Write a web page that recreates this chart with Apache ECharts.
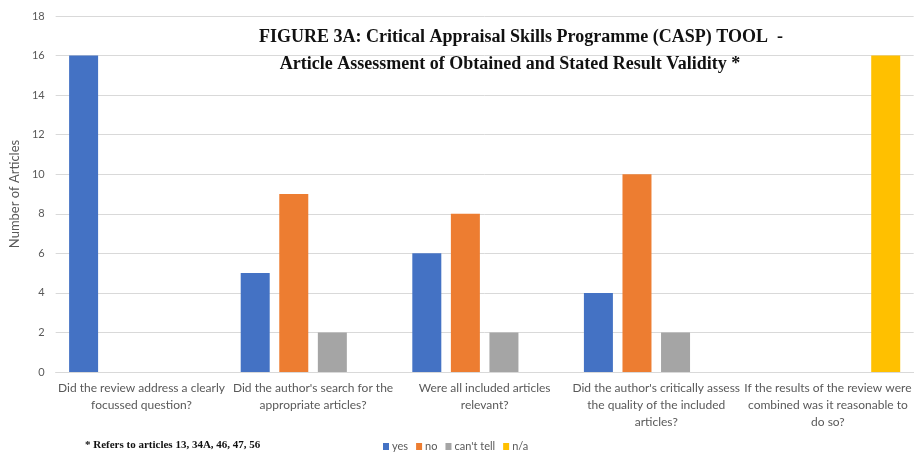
<!DOCTYPE html>
<html>
<head>
<meta charset="utf-8">
<script src="https://cdn.jsdelivr.net/npm/echarts@6/dist/echarts.min.js"></script>
<style>
  html, body { margin: 0; padding: 0; background: #fff; }
  #chart { width: 914px; height: 457px; }
</style>
</head>
<body>
<div id="chart"></div>
<script>
// CASP question categories (line breaks as drawn under the axis)
const categories = [
  'Did the review address a clearly\nfocussed question?',
  "Did the author's search for the\nappropriate articles?",
  'Were all included articles\nrelevant?',
  "Did the author's critically assess\nthe quality of the included\narticles?",
  'If the results of the review were\ncombined was it reasonable to\ndo so?'
];
const seriesNames = ['yes', 'no', "can't tell", 'n/a'];
const yesValues = [16, 5, 6, 4, 0];
const noValues = [0, 9, 8, 10, 0];
const cantTellValues = [0, 2, 2, 2, 0];
const naValues = [0, 0, 0, 0, 16];
const yTicks = [0, 2, 4, 6, 8, 10, 12, 14, 16, 18];
const titleLines = [
  'FIGURE 3A: Critical Appraisal Skills Programme (CASP) TOOL  -',
  'Article Assessment of Obtained and Stated Result Validity *'
];

const colors = ['#4472C4', '#ED7D31', '#A5A5A5', '#FFC000'];
const valueSets = [yesValues, noValues, cantTellValues, naValues];

const chart = echarts.init(document.getElementById('chart'), null, { renderer: 'canvas' });

const barSeries = seriesNames.map((name, i) => ({
  name: name,
  type: 'bar',
  data: valueSets[i],
  barWidth: 29,
  barGap: '33%',
  itemStyle: { color: colors[i] },
  emphasis: { disabled: true }
}));

const titleStyle = {
  fontFamily: 'Liberation Serif',
  fontWeight: 'bold',
  fontSize: 18,
  color: '#111111'
};

chart.setOption({
  animation: false,
  backgroundColor: '#ffffff',
  title: [
    { text: titleLines[0], left: 521, top: 28, textAlign: 'center', padding: 0, textStyle: titleStyle },
    { text: titleLines[1], left: 510, top: 55, textAlign: 'center', padding: 0, textStyle: titleStyle }
  ],
  legend: {
    data: seriesNames,
    left: 378,
    top: 436,
    itemWidth: 6,
    itemHeight: 7,
    itemGap: 8,
    icon: 'rect',
    textStyle: { fontFamily: 'Lato', fontSize: 11, color: '#595959', padding: [0, 0, 0, -2] }
  },
  graphic: [{
    type: 'text',
    left: 85,
    top: 440,
    style: {
      text: '* Refers to articles 13, 34A, 46, 47, 56',
      font: 'bold 11px "Liberation Serif"',
      fill: '#111111'
    }
  }],
  grid: { left: 53, top: 16, width: 863, bottom: 85 },
  xAxis: {
    type: 'category',
    data: categories,
    axisLine: { lineStyle: { color: '#d9d9d9' } },
    axisTick: { show: false },
    axisLabel: {
      interval: 0,
      margin: 8,
      fontFamily: 'Lato',
      fontSize: 12,
      lineHeight: 17,
      color: '#595959'
    }
  },
  yAxis: {
    type: 'value',
    min: yTicks[0],
    max: yTicks[yTicks.length - 1],
    interval: yTicks[1] - yTicks[0],
    name: 'Number of Articles',
    nameLocation: 'middle',
    nameGap: 27,
    nameTextStyle: { fontFamily: 'Lato', fontSize: 13, color: '#595959' },
    axisLine: { show: false },
    axisTick: { show: false },
    axisLabel: { fontFamily: 'Lato', fontSize: 11, color: '#595959', margin: 11 },
    splitLine: { lineStyle: { color: '#d9d9d9', width: 1 } }
  },
  series: barSeries
});
</script>
</body>
</html>
